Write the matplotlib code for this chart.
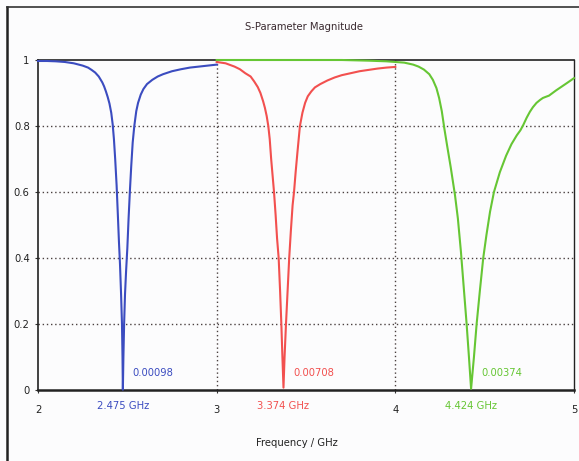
import matplotlib

matplotlib.use("Agg")
import matplotlib.pyplot as plt
from matplotlib.lines import Line2D
from matplotlib.transforms import offset_copy, blended_transform_factory

plt.rcParams["font.family"] = ["DejaVu Sans"]
plt.rcParams["font.stretch"] = "condensed"

# S11-like curves (frequency in GHz, magnitude)
blue_freq = [2.00, 2.05, 2.10, 2.15, 2.20, 2.25, 2.28, 2.30, 2.32, 2.34, 2.36, 2.37, 2.38, 2.39,
             2.40, 2.41, 2.418, 2.425, 2.432, 2.44, 2.447, 2.453, 2.459, 2.465, 2.47, 2.473,
             2.475, 2.478, 2.482, 2.487, 2.493, 2.50, 2.507, 2.515, 2.522, 2.53, 2.539, 2.55,
             2.56, 2.575, 2.59, 2.61, 2.64, 2.67, 2.70, 2.75, 2.80, 2.85, 2.90, 2.95, 3.00]
blue_mag = [0.997, 0.997, 0.996, 0.994, 0.990, 0.983, 0.977, 0.970, 0.962, 0.950, 0.932, 0.920,
            0.905, 0.888, 0.868, 0.840, 0.805, 0.760, 0.700, 0.620, 0.530, 0.450, 0.380, 0.290,
            0.200, 0.100, 0.00098, 0.100, 0.200, 0.290, 0.360, 0.430, 0.520, 0.610, 0.680,
            0.750, 0.800, 0.845, 0.870, 0.895, 0.912, 0.927, 0.940, 0.950, 0.957, 0.966, 0.972,
            0.977, 0.980, 0.983, 0.986]

red_freq = [3.00, 3.05, 3.10, 3.13, 3.16, 3.19, 3.21, 3.23, 3.245, 3.26, 3.27, 3.28, 3.289,
            3.297, 3.305, 3.313, 3.321, 3.33, 3.338, 3.347, 3.355, 3.362, 3.368, 3.374, 3.38,
            3.388, 3.397, 3.406, 3.415, 3.425, 3.433, 3.442, 3.452, 3.466, 3.48, 3.495, 3.51,
            3.53, 3.55, 3.58, 3.62, 3.66, 3.70, 3.75, 3.80, 3.85, 3.90, 3.95, 4.00]
red_mag = [0.994, 0.990, 0.980, 0.972, 0.960, 0.950, 0.935, 0.918, 0.900, 0.875, 0.855, 0.830,
           0.800, 0.760, 0.700, 0.650, 0.600, 0.530, 0.460, 0.400, 0.300, 0.200, 0.100, 0.00708,
           0.100, 0.200, 0.300, 0.400, 0.480, 0.560, 0.600, 0.660, 0.720, 0.800, 0.840, 0.870,
           0.890, 0.905, 0.917, 0.927, 0.938, 0.947, 0.954, 0.960, 0.966, 0.970, 0.974, 0.977,
           0.979]

green_freq = [3.00, 3.70, 3.85, 3.95, 4.00, 4.05, 4.10, 4.13, 4.16, 4.19, 4.21, 4.23, 4.245,
              4.26, 4.275, 4.29, 4.31, 4.334, 4.35, 4.367, 4.383, 4.399, 4.412, 4.424, 4.44,
              4.455, 4.473, 4.492, 4.51, 4.53, 4.552, 4.585, 4.62, 4.65, 4.68, 4.70, 4.716,
              4.735, 4.753, 4.77, 4.79, 4.81, 4.826, 4.845, 4.86, 4.88, 4.90, 4.93, 4.96, 5.00]
green_mag = [1.000, 1.000, 0.998, 0.996, 0.994, 0.992, 0.986, 0.980, 0.971, 0.957, 0.940, 0.915,
             0.885, 0.845, 0.790, 0.740, 0.675, 0.590, 0.520, 0.420, 0.310, 0.200, 0.100,
             0.00374, 0.100, 0.200, 0.300, 0.400, 0.470, 0.540, 0.600, 0.660, 0.710, 0.745,
             0.772, 0.787, 0.803, 0.825, 0.843, 0.857, 0.870, 0.879, 0.885, 0.889, 0.892, 0.900,
             0.908, 0.919, 0.930, 0.945]

series = [
    (blue_freq, blue_mag, "#3b4cc0"),
    (red_freq, red_mag, "#f2504f"),
    (green_freq, green_mag, "#66c634"),
]

fig = plt.figure(figsize=(5.79, 4.61), dpi=100)
fig.patch.set_facecolor("#fcfcfd")
ax = fig.add_axes([38 / 579, 1 - 390 / 461, (574 - 38) / 579, (390 - 60) / 461])
ax.set_facecolor("#fcfcfd")

ax.set_xlim(2, 5)
ax.set_ylim(0, 1)

for y in [0.2, 0.4, 0.6, 0.8]:
    ax.axhline(y, color="#4a4040", linewidth=1.0, linestyle=(0, (1, 2)), zorder=1)
for x in [3, 4]:
    ax.axvline(x, color="#4a4040", linewidth=1.0, linestyle=(0, (1, 2)), zorder=1)

for freq, mag, color in series:
    ax.plot(freq, mag, color=color, linewidth=1.5, zorder=3, clip_on=False)

# marker readouts: magnitude above the dip, frequency under the axis
for freq, mag, color in series:
    i = mag.index(min(mag))
    ax.text(freq[i], 0.05, f"{mag[i]:.5f}", color=color, fontsize=8, ha="left", va="center",
            transform=offset_copy(ax.transData, fig=fig, x=10, y=0, units="dots"))
    trans = blended_transform_factory(ax.transData, ax.transAxes)
    ax.text(freq[i], 0, f"{freq[i]:.3f} GHz", color=color, fontsize=8, ha="center", va="center",
            transform=offset_copy(trans, fig=fig, x=0, y=-16, units="dots"))

ax.set_xticks([2, 3, 4, 5])
ax.set_xticklabels(["2", "3", "4", "5"])
ax.set_yticks([0, 0.2, 0.4, 0.6, 0.8, 1])
ax.set_yticklabels(["0", "0.2", "0.4", "0.6", "0.8", "1"])
ax.tick_params(labelsize=8, length=2, width=0.8, color="#333333", labelcolor="#222222", pad=4)
ax.tick_params(axis="x", pad=9)

for side, width in [("left", 1.2), ("bottom", 1.8), ("top", 1.2), ("right", 1.0)]:
    ax.spines[side].set_linewidth(width)
    ax.spines[side].set_color("#222222")
    ax.spines[side].set_zorder(2)

fig.text(304 / 579, 1 - 27 / 461, "S-Parameter Magnitude", ha="center", va="center", fontsize=8,
         color="#3a2a30")
fig.text(297 / 579, 1 - 443 / 461, "Frequency / GHz", ha="center", va="center", fontsize=8,
         color="#222222")

# screenshot frame
fig.add_artist(Line2D([7 / 579, 7 / 579], [1 - 7 / 461, 0], transform=fig.transFigure,
                      color="#222222", linewidth=1.8))
fig.add_artist(Line2D([7 / 579, 1], [1 - 7 / 461, 1 - 7 / 461], transform=fig.transFigure,
                      color="#333333", linewidth=1.2))

fig.savefig("out.png", dpi=100, facecolor=fig.get_facecolor())
